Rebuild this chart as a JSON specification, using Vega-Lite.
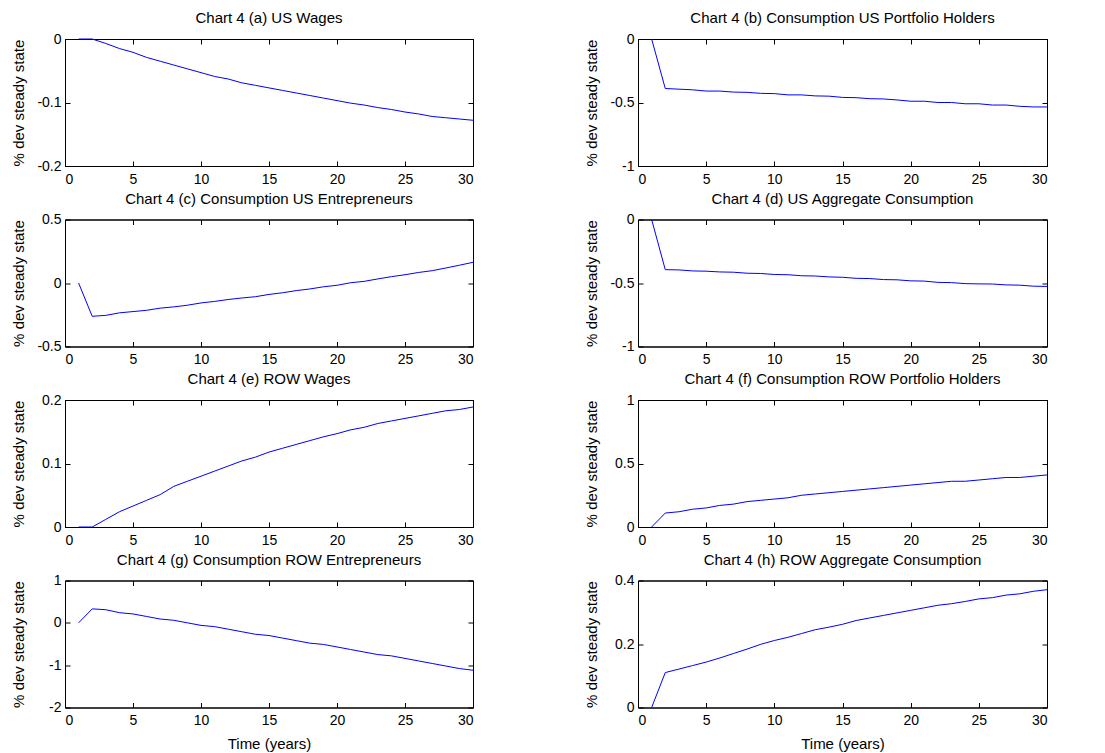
{
  "$schema": "https://vega.github.io/schema/vega-lite/v6.json",
  "background": "white",
  "padding": {"left": 10, "top": 10, "right": 5, "bottom": 5},
  "config": {
    "font": "Liberation Sans",
    "view": {"stroke": "black", "strokeWidth": 1},
    "axis": {"domainColor": "black", "tickColor": "black", "labelColor": "black", "titleColor": "black", "labelFont": "Liberation Sans", "titleFont": "Liberation Sans", "labelFontSize": 14, "titleFontSize": 15, "titleFontWeight": "normal", "grid": false, "tickSize": -5, "labelPadding": 11, "domainWidth": 1, "tickWidth": 1, "labelExpr": "'' + datum.value"},
    "axisY": {"minExtent": 30, "maxExtent": 30, "titlePadding": 9, "labelPadding": 9, "titleFontWeight": "normal"},
    "axisX": {"titleFontWeight": "normal"},
    "title": {"font": "Liberation Sans", "fontSize": 15, "fontWeight": "normal", "color": "black", "offset": 6},
    "line": {"color": "#0000ff", "strokeWidth": 1}
  },
  "data": {"values": [
    {"p":"a","t":1,"v":0},{"p":"a","t":2,"v":0},{"p":"a","t":3,"v":-0.007},{"p":"a","t":4,"v":-0.015},{"p":"a","t":5,"v":-0.021},{"p":"a","t":6,"v":-0.029},{"p":"a","t":7,"v":-0.035},{"p":"a","t":8,"v":-0.041},{"p":"a","t":9,"v":-0.047},{"p":"a","t":10,"v":-0.053},{"p":"a","t":11,"v":-0.059},{"p":"a","t":12,"v":-0.063},{"p":"a","t":13,"v":-0.069},{"p":"a","t":14,"v":-0.073},{"p":"a","t":15,"v":-0.077},{"p":"a","t":16,"v":-0.081},{"p":"a","t":17,"v":-0.085},{"p":"a","t":18,"v":-0.089},{"p":"a","t":19,"v":-0.093},{"p":"a","t":20,"v":-0.097},{"p":"a","t":21,"v":-0.101},{"p":"a","t":22,"v":-0.104},{"p":"a","t":23,"v":-0.108},{"p":"a","t":24,"v":-0.111},{"p":"a","t":25,"v":-0.115},{"p":"a","t":26,"v":-0.118},{"p":"a","t":27,"v":-0.122},{"p":"a","t":28,"v":-0.124},{"p":"a","t":29,"v":-0.126},{"p":"a","t":30,"v":-0.128},
    {"p":"b","t":1,"v":0},{"p":"b","t":2,"v":-0.39},{"p":"b","t":3,"v":-0.395},{"p":"b","t":4,"v":-0.4},{"p":"b","t":5,"v":-0.41},{"p":"b","t":6,"v":-0.41},{"p":"b","t":7,"v":-0.418},{"p":"b","t":8,"v":-0.42},{"p":"b","t":9,"v":-0.428},{"p":"b","t":10,"v":-0.43},{"p":"b","t":11,"v":-0.44},{"p":"b","t":12,"v":-0.44},{"p":"b","t":13,"v":-0.448},{"p":"b","t":14,"v":-0.45},{"p":"b","t":15,"v":-0.46},{"p":"b","t":16,"v":-0.462},{"p":"b","t":17,"v":-0.47},{"p":"b","t":18,"v":-0.472},{"p":"b","t":19,"v":-0.48},{"p":"b","t":20,"v":-0.49},{"p":"b","t":21,"v":-0.49},{"p":"b","t":22,"v":-0.5},{"p":"b","t":23,"v":-0.5},{"p":"b","t":24,"v":-0.51},{"p":"b","t":25,"v":-0.51},{"p":"b","t":26,"v":-0.52},{"p":"b","t":27,"v":-0.52},{"p":"b","t":28,"v":-0.53},{"p":"b","t":29,"v":-0.535},{"p":"b","t":30,"v":-0.535},
    {"p":"c","t":1,"v":0},{"p":"c","t":2,"v":-0.262},{"p":"c","t":3,"v":-0.255},{"p":"c","t":4,"v":-0.235},{"p":"c","t":5,"v":-0.225},{"p":"c","t":6,"v":-0.215},{"p":"c","t":7,"v":-0.198},{"p":"c","t":8,"v":-0.188},{"p":"c","t":9,"v":-0.175},{"p":"c","t":10,"v":-0.157},{"p":"c","t":11,"v":-0.145},{"p":"c","t":12,"v":-0.13},{"p":"c","t":13,"v":-0.118},{"p":"c","t":14,"v":-0.108},{"p":"c","t":15,"v":-0.09},{"p":"c","t":16,"v":-0.077},{"p":"c","t":17,"v":-0.06},{"p":"c","t":18,"v":-0.047},{"p":"c","t":19,"v":-0.03},{"p":"c","t":20,"v":-0.018},{"p":"c","t":21,"v":0.002},{"p":"c","t":22,"v":0.013},{"p":"c","t":23,"v":0.032},{"p":"c","t":24,"v":0.05},{"p":"c","t":25,"v":0.065},{"p":"c","t":26,"v":0.083},{"p":"c","t":27,"v":0.097},{"p":"c","t":28,"v":0.118},{"p":"c","t":29,"v":0.14},{"p":"c","t":30,"v":0.163},
    {"p":"d","t":1,"v":0},{"p":"d","t":2,"v":-0.395},{"p":"d","t":3,"v":-0.397},{"p":"d","t":4,"v":-0.405},{"p":"d","t":5,"v":-0.407},{"p":"d","t":6,"v":-0.413},{"p":"d","t":7,"v":-0.415},{"p":"d","t":8,"v":-0.423},{"p":"d","t":9,"v":-0.425},{"p":"d","t":10,"v":-0.433},{"p":"d","t":11,"v":-0.435},{"p":"d","t":12,"v":-0.443},{"p":"d","t":13,"v":-0.445},{"p":"d","t":14,"v":-0.452},{"p":"d","t":15,"v":-0.455},{"p":"d","t":16,"v":-0.463},{"p":"d","t":17,"v":-0.465},{"p":"d","t":18,"v":-0.473},{"p":"d","t":19,"v":-0.475},{"p":"d","t":20,"v":-0.483},{"p":"d","t":21,"v":-0.485},{"p":"d","t":22,"v":-0.495},{"p":"d","t":23,"v":-0.497},{"p":"d","t":24,"v":-0.505},{"p":"d","t":25,"v":-0.507},{"p":"d","t":26,"v":-0.508},{"p":"d","t":27,"v":-0.515},{"p":"d","t":28,"v":-0.517},{"p":"d","t":29,"v":-0.525},{"p":"d","t":30,"v":-0.527},
    {"p":"e","t":1,"v":0},{"p":"e","t":2,"v":0},{"p":"e","t":3,"v":0.012},{"p":"e","t":4,"v":0.024},{"p":"e","t":5,"v":0.033},{"p":"e","t":6,"v":0.042},{"p":"e","t":7,"v":0.051},{"p":"e","t":8,"v":0.064},{"p":"e","t":9,"v":0.072},{"p":"e","t":10,"v":0.08},{"p":"e","t":11,"v":0.088},{"p":"e","t":12,"v":0.096},{"p":"e","t":13,"v":0.104},{"p":"e","t":14,"v":0.11},{"p":"e","t":15,"v":0.118},{"p":"e","t":16,"v":0.124},{"p":"e","t":17,"v":0.13},{"p":"e","t":18,"v":0.136},{"p":"e","t":19,"v":0.142},{"p":"e","t":20,"v":0.147},{"p":"e","t":21,"v":0.153},{"p":"e","t":22,"v":0.157},{"p":"e","t":23,"v":0.163},{"p":"e","t":24,"v":0.167},{"p":"e","t":25,"v":0.171},{"p":"e","t":26,"v":0.175},{"p":"e","t":27,"v":0.179},{"p":"e","t":28,"v":0.183},{"p":"e","t":29,"v":0.185},{"p":"e","t":30,"v":0.189},
    {"p":"f","t":1,"v":0},{"p":"f","t":2,"v":0.11},{"p":"f","t":3,"v":0.12},{"p":"f","t":4,"v":0.14},{"p":"f","t":5,"v":0.15},{"p":"f","t":6,"v":0.17},{"p":"f","t":7,"v":0.18},{"p":"f","t":8,"v":0.2},{"p":"f","t":9,"v":0.21},{"p":"f","t":10,"v":0.22},{"p":"f","t":11,"v":0.23},{"p":"f","t":12,"v":0.25},{"p":"f","t":13,"v":0.26},{"p":"f","t":14,"v":0.27},{"p":"f","t":15,"v":0.28},{"p":"f","t":16,"v":0.29},{"p":"f","t":17,"v":0.3},{"p":"f","t":18,"v":0.31},{"p":"f","t":19,"v":0.32},{"p":"f","t":20,"v":0.33},{"p":"f","t":21,"v":0.34},{"p":"f","t":22,"v":0.35},{"p":"f","t":23,"v":0.36},{"p":"f","t":24,"v":0.36},{"p":"f","t":25,"v":0.37},{"p":"f","t":26,"v":0.38},{"p":"f","t":27,"v":0.39},{"p":"f","t":28,"v":0.39},{"p":"f","t":29,"v":0.4},{"p":"f","t":30,"v":0.41},
    {"p":"g","t":1,"v":0},{"p":"g","t":2,"v":0.33},{"p":"g","t":3,"v":0.31},{"p":"g","t":4,"v":0.24},{"p":"g","t":5,"v":0.21},{"p":"g","t":6,"v":0.15},{"p":"g","t":7,"v":0.09},{"p":"g","t":8,"v":0.06},{"p":"g","t":9,"v":0},{"p":"g","t":10,"v":-0.06},{"p":"g","t":11,"v":-0.09},{"p":"g","t":12,"v":-0.15},{"p":"g","t":13,"v":-0.21},{"p":"g","t":14,"v":-0.27},{"p":"g","t":15,"v":-0.3},{"p":"g","t":16,"v":-0.36},{"p":"g","t":17,"v":-0.42},{"p":"g","t":18,"v":-0.48},{"p":"g","t":19,"v":-0.51},{"p":"g","t":20,"v":-0.57},{"p":"g","t":21,"v":-0.63},{"p":"g","t":22,"v":-0.69},{"p":"g","t":23,"v":-0.75},{"p":"g","t":24,"v":-0.78},{"p":"g","t":25,"v":-0.84},{"p":"g","t":26,"v":-0.9},{"p":"g","t":27,"v":-0.96},{"p":"g","t":28,"v":-1.02},{"p":"g","t":29,"v":-1.08},{"p":"g","t":30,"v":-1.12},
    {"p":"h","t":1,"v":0},{"p":"h","t":2,"v":0.11},{"p":"h","t":3,"v":0.121},{"p":"h","t":4,"v":0.132},{"p":"h","t":5,"v":0.143},{"p":"h","t":6,"v":0.156},{"p":"h","t":7,"v":0.17},{"p":"h","t":8,"v":0.184},{"p":"h","t":9,"v":0.199},{"p":"h","t":10,"v":0.211},{"p":"h","t":11,"v":0.221},{"p":"h","t":12,"v":0.233},{"p":"h","t":13,"v":0.245},{"p":"h","t":14,"v":0.253},{"p":"h","t":15,"v":0.262},{"p":"h","t":16,"v":0.274},{"p":"h","t":17,"v":0.282},{"p":"h","t":18,"v":0.29},{"p":"h","t":19,"v":0.298},{"p":"h","t":20,"v":0.306},{"p":"h","t":21,"v":0.314},{"p":"h","t":22,"v":0.322},{"p":"h","t":23,"v":0.327},{"p":"h","t":24,"v":0.334},{"p":"h","t":25,"v":0.342},{"p":"h","t":26,"v":0.346},{"p":"h","t":27,"v":0.354},{"p":"h","t":28,"v":0.358},{"p":"h","t":29,"v":0.366},{"p":"h","t":30,"v":0.371}
  ]},
  "columns": 2,
  "bounds": "flush",
  "spacing": {"row": 53.5, "column": 165},
  "concat": [
    {"title": "Chart 4 (a) US Wages", "transform": [{"filter": "datum.p == 'a'"}], "width": 408, "height": 127,
     "layer": [
      {"mark": "line", "encoding": {"x": {"field": "t", "type": "quantitative", "scale": {"domain": [0, 30], "nice": false}, "axis": {"values": [0,5,10,15,20,25,30], "title": null}}, "y": {"field": "v", "type": "quantitative", "scale": {"domain": [-0.2, 0], "nice": false}, "axis": {"values": [-0.2,-0.1,0], "title": "% dev steady state"}}}},
      {"mark": {"type": "line", "strokeOpacity": 0}, "encoding": {"x": {"field": "t", "type": "quantitative", "axis": {"orient": "top", "values": [0,5,10,15,20,25,30], "labels": false, "title": null, "minExtent": 0, "maxExtent": 0}}, "y": {"field": "v", "type": "quantitative", "axis": {"orient": "right", "values": [-0.2,-0.1,0], "labels": false, "title": null, "minExtent": 0, "maxExtent": 0}}}}
     ], "resolve": {"axis": {"x": "independent", "y": "independent"}}},
    {"title": "Chart 4 (b) Consumption US Portfolio Holders", "transform": [{"filter": "datum.p == 'b'"}], "width": 409, "height": 127,
     "layer": [
      {"mark": "line", "encoding": {"x": {"field": "t", "type": "quantitative", "scale": {"domain": [0, 30], "nice": false}, "axis": {"values": [0,5,10,15,20,25,30], "title": null}}, "y": {"field": "v", "type": "quantitative", "scale": {"domain": [-1, 0], "nice": false}, "axis": {"values": [-1,-0.5,0], "title": "% dev steady state"}}}},
      {"mark": {"type": "line", "strokeOpacity": 0}, "encoding": {"x": {"field": "t", "type": "quantitative", "axis": {"orient": "top", "values": [0,5,10,15,20,25,30], "labels": false, "title": null, "minExtent": 0, "maxExtent": 0}}, "y": {"field": "v", "type": "quantitative", "axis": {"orient": "right", "values": [-1,-0.5,0], "labels": false, "title": null, "minExtent": 0, "maxExtent": 0}}}}
     ], "resolve": {"axis": {"x": "independent", "y": "independent"}}},
    {"title": "Chart 4 (c) Consumption US Entrepreneurs", "transform": [{"filter": "datum.p == 'c'"}], "width": 408, "height": 127,
     "layer": [
      {"mark": "line", "encoding": {"x": {"field": "t", "type": "quantitative", "scale": {"domain": [0, 30], "nice": false}, "axis": {"values": [0,5,10,15,20,25,30], "title": null}}, "y": {"field": "v", "type": "quantitative", "scale": {"domain": [-0.5, 0.5], "nice": false}, "axis": {"values": [-0.5,0,0.5], "title": "% dev steady state"}}}},
      {"mark": {"type": "line", "strokeOpacity": 0}, "encoding": {"x": {"field": "t", "type": "quantitative", "axis": {"orient": "top", "values": [0,5,10,15,20,25,30], "labels": false, "title": null, "minExtent": 0, "maxExtent": 0}}, "y": {"field": "v", "type": "quantitative", "axis": {"orient": "right", "values": [-0.5,0,0.5], "labels": false, "title": null, "minExtent": 0, "maxExtent": 0}}}}
     ], "resolve": {"axis": {"x": "independent", "y": "independent"}}},
    {"title": "Chart 4 (d) US Aggregate Consumption", "transform": [{"filter": "datum.p == 'd'"}], "width": 409, "height": 127,
     "layer": [
      {"mark": "line", "encoding": {"x": {"field": "t", "type": "quantitative", "scale": {"domain": [0, 30], "nice": false}, "axis": {"values": [0,5,10,15,20,25,30], "title": null}}, "y": {"field": "v", "type": "quantitative", "scale": {"domain": [-1, 0], "nice": false}, "axis": {"values": [-1,-0.5,0], "title": "% dev steady state"}}}},
      {"mark": {"type": "line", "strokeOpacity": 0}, "encoding": {"x": {"field": "t", "type": "quantitative", "axis": {"orient": "top", "values": [0,5,10,15,20,25,30], "labels": false, "title": null, "minExtent": 0, "maxExtent": 0}}, "y": {"field": "v", "type": "quantitative", "axis": {"orient": "right", "values": [-1,-0.5,0], "labels": false, "title": null, "minExtent": 0, "maxExtent": 0}}}}
     ], "resolve": {"axis": {"x": "independent", "y": "independent"}}},
    {"title": "Chart 4 (e) ROW Wages", "transform": [{"filter": "datum.p == 'e'"}], "width": 408, "height": 127,
     "layer": [
      {"mark": "line", "encoding": {"x": {"field": "t", "type": "quantitative", "scale": {"domain": [0, 30], "nice": false}, "axis": {"values": [0,5,10,15,20,25,30], "title": null}}, "y": {"field": "v", "type": "quantitative", "scale": {"domain": [0, 0.2], "nice": false}, "axis": {"values": [0,0.1,0.2], "title": "% dev steady state"}}}},
      {"mark": {"type": "line", "strokeOpacity": 0}, "encoding": {"x": {"field": "t", "type": "quantitative", "axis": {"orient": "top", "values": [0,5,10,15,20,25,30], "labels": false, "title": null, "minExtent": 0, "maxExtent": 0}}, "y": {"field": "v", "type": "quantitative", "axis": {"orient": "right", "values": [0,0.1,0.2], "labels": false, "title": null, "minExtent": 0, "maxExtent": 0}}}}
     ], "resolve": {"axis": {"x": "independent", "y": "independent"}}},
    {"title": "Chart 4 (f) Consumption ROW Portfolio Holders", "transform": [{"filter": "datum.p == 'f'"}], "width": 409, "height": 127,
     "layer": [
      {"mark": "line", "encoding": {"x": {"field": "t", "type": "quantitative", "scale": {"domain": [0, 30], "nice": false}, "axis": {"values": [0,5,10,15,20,25,30], "title": null}}, "y": {"field": "v", "type": "quantitative", "scale": {"domain": [0, 1], "nice": false}, "axis": {"values": [0,0.5,1], "title": "% dev steady state"}}}},
      {"mark": {"type": "line", "strokeOpacity": 0}, "encoding": {"x": {"field": "t", "type": "quantitative", "axis": {"orient": "top", "values": [0,5,10,15,20,25,30], "labels": false, "title": null, "minExtent": 0, "maxExtent": 0}}, "y": {"field": "v", "type": "quantitative", "axis": {"orient": "right", "values": [0,0.5,1], "labels": false, "title": null, "minExtent": 0, "maxExtent": 0}}}}
     ], "resolve": {"axis": {"x": "independent", "y": "independent"}}},
    {"title": "Chart 4 (g) Consumption ROW Entrepreneurs", "transform": [{"filter": "datum.p == 'g'"}], "width": 408, "height": 127,
     "layer": [
      {"mark": "line", "encoding": {"x": {"field": "t", "type": "quantitative", "scale": {"domain": [0, 30], "nice": false}, "axis": {"values": [0,5,10,15,20,25,30], "title": "Time (years)", "titlePadding": 9}}, "y": {"field": "v", "type": "quantitative", "scale": {"domain": [-2, 1], "nice": false}, "axis": {"values": [-2,-1,0,1], "title": "% dev steady state"}}}},
      {"mark": {"type": "line", "strokeOpacity": 0}, "encoding": {"x": {"field": "t", "type": "quantitative", "axis": {"orient": "top", "values": [0,5,10,15,20,25,30], "labels": false, "title": null, "minExtent": 0, "maxExtent": 0}}, "y": {"field": "v", "type": "quantitative", "axis": {"orient": "right", "values": [-2,-1,0,1], "labels": false, "title": null, "minExtent": 0, "maxExtent": 0}}}}
     ], "resolve": {"axis": {"x": "independent", "y": "independent"}}},
    {"title": "Chart 4 (h) ROW Aggregate Consumption", "transform": [{"filter": "datum.p == 'h'"}], "width": 409, "height": 127,
     "layer": [
      {"mark": "line", "encoding": {"x": {"field": "t", "type": "quantitative", "scale": {"domain": [0, 30], "nice": false}, "axis": {"values": [0,5,10,15,20,25,30], "title": "Time (years)", "titlePadding": 9}}, "y": {"field": "v", "type": "quantitative", "scale": {"domain": [0, 0.4], "nice": false}, "axis": {"values": [0,0.2,0.4], "title": "% dev steady state"}}}},
      {"mark": {"type": "line", "strokeOpacity": 0}, "encoding": {"x": {"field": "t", "type": "quantitative", "axis": {"orient": "top", "values": [0,5,10,15,20,25,30], "labels": false, "title": null, "minExtent": 0, "maxExtent": 0}}, "y": {"field": "v", "type": "quantitative", "axis": {"orient": "right", "values": [0,0.2,0.4], "labels": false, "title": null, "minExtent": 0, "maxExtent": 0}}}}
     ], "resolve": {"axis": {"x": "independent", "y": "independent"}}}
  ]
}
